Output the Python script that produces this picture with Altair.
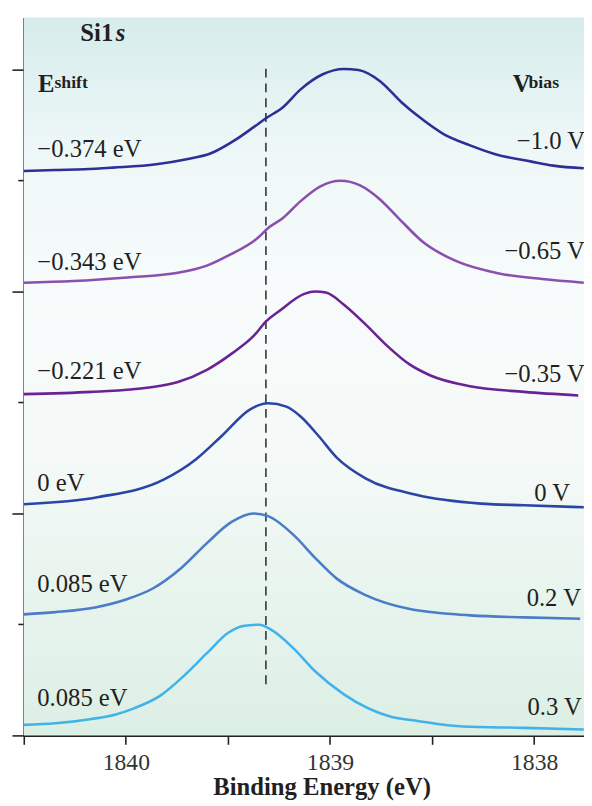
import altair as alt
import pandas as pd

# ---- data ----
series = ["-1.0 V", "-0.65 V", "-0.35 V", "0 V", "0.2 V", "0.3 V"]
colors = ["#2b2f96", "#8b4fae", "#6a2294", "#2a45a5", "#4a7cc8", "#41b3ea"]

e_m10 = [1840.50, 1840.345, 1840.204, 1840.063, 1839.851, 1839.709, 1839.586, 1839.462, 1839.374, 1839.312,
         1839.232, 1839.144, 1839.038, 1838.932, 1838.861, 1838.755, 1838.649, 1838.561, 1838.446, 1838.314,
         1838.190, 1838.013, 1837.907, 1837.757]
i_m10 = [5.087, 5.096, 5.102, 5.117, 5.147, 5.191, 5.244, 5.369, 5.482, 5.564, 5.659, 5.822, 5.956, 6.006,
         5.997, 5.896, 5.704, 5.570, 5.422, 5.318, 5.238, 5.171, 5.135, 5.111]

e_m065 = [1840.50, 1840.257, 1839.992, 1839.745, 1839.603, 1839.497, 1839.356, 1839.303, 1839.232, 1839.144,
          1839.047, 1838.949, 1838.853, 1838.755, 1838.667, 1838.543, 1838.384, 1838.172, 1837.960, 1837.757]
i_m065 = [4.080, 4.095, 4.127, 4.169, 4.234, 4.326, 4.480, 4.572, 4.661, 4.815, 4.948, 4.998, 4.957, 4.830,
          4.667, 4.444, 4.276, 4.163, 4.113, 4.080]

e_m035 = [1840.50, 1840.168, 1839.886, 1839.745, 1839.603, 1839.480, 1839.374, 1839.312, 1839.250, 1839.126,
          1839.073, 1839.020, 1838.932, 1838.826, 1838.720, 1838.614, 1838.508, 1838.314, 1838.049, 1837.784]
i_m035 = [3.076, 3.096, 3.135, 3.185, 3.295, 3.443, 3.600, 3.733, 3.822, 3.979, 4.000, 3.991, 3.881, 3.704,
          3.511, 3.348, 3.244, 3.147, 3.096, 3.064]

e_0 = [1840.50, 1840.133, 1839.815, 1839.656, 1839.532, 1839.391, 1839.303, 1839.214, 1839.144, 1839.055,
       1838.967, 1838.826, 1838.578, 1838.261, 1838.049, 1837.757]
i_0 = [2.083, 2.148, 2.305, 2.489, 2.696, 2.939, 2.993, 2.963, 2.874, 2.696, 2.504, 2.317, 2.169, 2.089,
       2.074, 2.056]

e_p02 = [1840.50, 1840.345, 1840.151, 1839.992, 1839.868, 1839.727, 1839.603, 1839.480, 1839.374, 1839.303,
         1839.179, 1839.073, 1838.967, 1838.826, 1838.614, 1838.314, 1838.049, 1837.775]
i_p02 = [1.091, 1.111, 1.153, 1.229, 1.324, 1.511, 1.733, 1.926, 2.000, 1.976, 1.807, 1.600, 1.413, 1.265,
         1.141, 1.082, 1.064, 1.052]

e_p03 = [1840.50, 1840.345, 1840.168, 1840.054, 1839.957, 1839.833, 1839.709, 1839.603, 1839.497, 1839.426,
         1839.347, 1839.285, 1839.179, 1839.073, 1838.932, 1838.702, 1838.578, 1838.349, 1838.049, 1837.757]
i_p03 = [0.095, 0.109, 0.148, 0.187, 0.246, 0.356, 0.548, 0.741, 0.927, 0.987, 0.998, 0.948, 0.785, 0.578,
         0.370, 0.169, 0.133, 0.080, 0.068, 0.053]

energies = [e_m10, e_m065, e_m035, e_0, e_p02, e_p03]
intensities = [i_m10, i_m065, i_m035, i_0, i_p02, i_p03]

eshift_text = ["\u22120.374 eV", "\u22120.343 eV", "\u22120.221 eV", "0 eV", "0.085 eV", "0.085 eV"]
eshift_y = [5.215, 4.193, 3.215, 2.207, 1.295, 0.267]
eshift_x = [1840.434] * 6

vbias_text = ["\u22121.0 V", "\u22120.65 V", "\u22120.35 V", "0 V", "0.2 V", "0.3 V"]
vbias_x = [1838.085, 1838.146, 1838.146, 1838.000, 1838.037, 1838.033]
vbias_y = [5.283, 4.296, 3.185, 2.113, 1.170, 0.184]

ref_energy = 1839.314
ref_y = [0.462, 6.027]

x_domain = [1840.5, 1837.756]
y_domain = [0, 6.471]
x_ticks = [1840.5, 1840, 1839.5, 1839, 1838.5, 1838]
y_ticks = [0, 1, 2, 3, 4, 5, 6]

W, H = 568, 728
SERIF = "Liberation Serif"
TXT = "#231f20"

# ---- tables ----
rows = []
for s, es, vs in zip(series, energies, intensities):
    for e, v in zip(es, vs):
        rows.append({"series": s, "E": e, "I": v})
df = pd.DataFrame(rows)

xs = alt.Scale(domain=x_domain, nice=False, zero=False)
ys = alt.Scale(domain=y_domain, nice=False, zero=False)

x_axis = alt.Axis(
    values=x_ticks,
    labelExpr="datum.value % 1 == 0 ? format(datum.value, 'd') : ''",
    tickSize=9, tickWidth=1.6, tickColor="#222", domainColor="#222", domainWidth=2,
    labelFont="Liberation Sans Narrow", labelFontSize=24, labelColor="#333",
    labelBaseline="alphabetic", labelPadding=26, labelOverlap=False, labelFlush=False,
    title="Binding Energy (eV)", titleFont=SERIF, titleFontSize=25, titleFontWeight="bold",
    titleColor=TXT, titleBaseline="alphabetic", titleX=302, titleY=60,
    titleAlign="center", grid=False,
)
y_axis = alt.Axis(
    values=y_ticks, labels=False, title=None, grid=False,
    tickSize={"condition": {"test": "datum.value % 2 == 0", "value": 12}, "value": 6},
    tickWidth=1.6, tickColor="#222", domainColor="#222", domainWidth=2,
)

bg = alt.Chart(pd.DataFrame({"a": [0]})).mark_rect(
    color=alt.Gradient(
        gradient="linear", x1=0, x2=0, y1=0, y2=1,
        stops=[
            alt.GradientStop(color="#d6ecec", offset=0),
            alt.GradientStop(color="#eef7f7", offset=0.18),
            alt.GradientStop(color="#f7fbfb", offset=0.38),
            alt.GradientStop(color="#f5faf8", offset=0.6),
            alt.GradientStop(color="#e8f4ee", offset=0.8),
            alt.GradientStop(color="#dcefe5", offset=1),
        ],
    )
).encode(x=alt.value(0), x2=alt.value(W), y=alt.value(0), y2=alt.value(H))

lines = alt.Chart(df).mark_line(strokeWidth=2.6, interpolate="monotone").encode(
    x=alt.X("E:Q", scale=xs, axis=x_axis),
    y=alt.Y("I:Q", scale=ys, axis=y_axis),
    color=alt.Color("series:N", scale=alt.Scale(domain=series, range=colors), legend=None),
)

ref = alt.Chart(pd.DataFrame({"E": [ref_energy], "y": [ref_y[0]], "y2": [ref_y[1]]})).mark_rule(
    strokeDash=[9, 6], strokeWidth=1.6, color="#333"
).encode(x=alt.X("E:Q", scale=xs), y=alt.Y("y:Q", scale=ys), y2="y2:Q")

left_txt = alt.Chart(pd.DataFrame({"E": eshift_x, "y": eshift_y, "t": eshift_text})).mark_text(
    align="left", baseline="alphabetic", font=SERIF, fontSize=25, color=TXT
).encode(x=alt.X("E:Q", scale=xs), y=alt.Y("y:Q", scale=ys), text="t:N")

right_txt = alt.Chart(pd.DataFrame({"E": vbias_x, "y": vbias_y, "t": vbias_text})).mark_text(
    align="left", baseline="alphabetic", font=SERIF, fontSize=25, color=TXT
).encode(x=alt.X("E:Q", scale=xs), y=alt.Y("y:Q", scale=ys), text="t:N")

big_head = alt.Chart(pd.DataFrame({"E": [1840.223, 1840.430, 1838.105], "y": [6.258, 5.802, 5.802],
                                   "t": ["Si1", "E", "V"]})).mark_text(
    align="left", baseline="alphabetic", font=SERIF, fontSize=25, fontWeight="bold", color=TXT
).encode(x=alt.X("E:Q", scale=xs), y=alt.Y("y:Q", scale=ys), text="t:N")

ital_head = alt.Chart(pd.DataFrame({"E": [1840.050], "y": [6.258], "t": ["s"]})).mark_text(
    align="left", baseline="alphabetic", font=SERIF, fontSize=25, fontWeight="bold",
    fontStyle="italic", color=TXT
).encode(x=alt.X("E:Q", scale=xs), y=alt.Y("y:Q", scale=ys), text="t:N")

small_head = alt.Chart(pd.DataFrame({"E": [1840.350, 1838.028], "y": [5.831, 5.831],
                                     "t": ["shift", "bias"]})).mark_text(
    align="left", baseline="alphabetic", font=SERIF, fontSize=18, fontWeight="bold", color=TXT
).encode(x=alt.X("E:Q", scale=xs), y=alt.Y("y:Q", scale=ys), text="t:N")

chart = alt.layer(bg, ref, lines, left_txt, right_txt, big_head, ital_head, small_head).properties(
    width=W, height=H,
    padding={"left": 16, "top": 4, "right": 0, "bottom": 62},
    autosize=alt.AutoSizeParams(type="none"),
).configure_view(strokeWidth=0)

chart.save("out.html", embed_options={"renderer": "svg", "actions": False})
